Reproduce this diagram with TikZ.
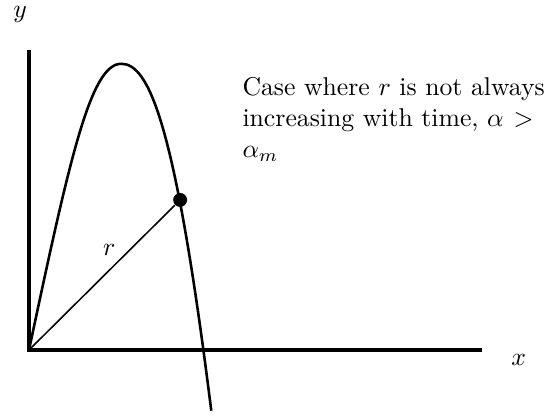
\documentclass[tikz,border=0pt]{standalone}
\begin{document}
\begin{tikzpicture}[axis/.style={line width=1.2pt}, orbit/.style={line width=1pt}]
  \useasboundingbox (-0.396,-0.888) rectangle (7.158,4.781);
  \coordinate (O) at (0,0);
  \coordinate (ytop) at (0,4.10);
  \coordinate (xend) at (6.19,0);
  \coordinate (top) at (1.26,3.91);
  \coordinate (E) at (2.49,-0.83);
  \draw[axis] (ytop) -- (O) -- (xend);
  \node (xlab) at (6.69,-0.14) {$x$};
  \node (ylab) at (-0.12,4.58) {$y$};
  % trajectory
  \draw[orbit] (O) .. controls (0.555,2.607) and (0.84,3.91) .. (top)
    .. controls (1.64,3.91) and (2.0,3.1) .. (E);
  \node[fill,circle,inner sep=0pt,minimum size=0.19cm] (P) at (2.065,2.050) {};
  \draw[line width=0.6pt] (O) -- (P) node[pos=0.55,above=2pt] (rlab) {$r$};
  \node[anchor=north west,inner sep=0pt,text width=121pt,align=left] (note) at (2.91,3.73)
    {Case where $r$ is not always increasing with time, $\alpha > \alpha_m$};
\end{tikzpicture}
\end{document}
